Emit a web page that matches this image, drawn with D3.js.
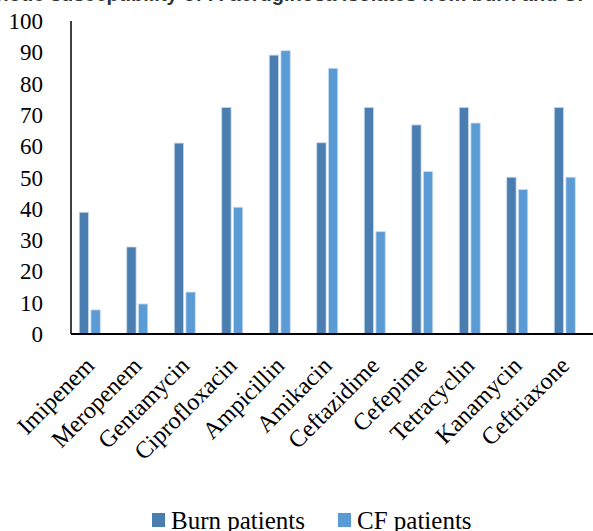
<!DOCTYPE html>
<html>
<head>
<meta charset="utf-8">
<script src="https://cdn.jsdelivr.net/npm/d3@7"></script>
<style>
  body { margin: 0; background: #fff; }
  svg { display: block; }
</style>
</head>
<body>
<script>
var width = 593;
var height = 531;

// data
var drugs = ["Imipenem", "Meropenem", "Gentamycin", "Ciprofloxacin", "Ampicillin", "Amikacin",
  "Ceftazidime", "Cefepime", "Tetracyclin", "Kanamycin", "Ceftriaxone"];
var burn = [38.9, 27.8, 61.0, 72.4, 89.1, 61.1, 72.4, 66.8, 72.4, 50.1, 72.4];
var cf = [7.7, 9.6, 13.4, 40.5, 90.5, 84.9, 32.7, 51.9, 67.4, 46.2, 50.1];
var series = ["Burn patients", "CF patients"];
var yTicks = [0, 10, 20, 30, 40, 50, 60, 70, 80, 90, 100];
var colors = ["#4a7eb0", "#5b9bd5"];

var svg = d3.select("body")
  .append("svg")
  .attr("width", width)
  .attr("height", height);

// title, cut off by the top edge as in the source image
svg.append("text")
  .attr("x", 312)
  .attr("y", 1)
  .attr("text-anchor", "middle")
  .style("font-family", "'Liberation Sans', Arial, sans-serif")
  .style("font-weight", "bold")
  .style("font-size", "20px")
  .attr("fill", "#333")
  .text("Antibiotic susceptibility of P. aeruginosa isolates from burn and CF patients");

var x = d3.scaleBand()
  .domain(drugs)
  .range([66, 588.5]);

var x1 = d3.scaleBand()
  .domain(series)
  .range([-10.5, 10.5])
  .paddingInner(0.2);

var y = d3.scaleLinear()
  .domain([0, 100])
  .range([334, 21]);

// y axis
svg.append("line")
  .attr("x1", 71).attr("x2", 71)
  .attr("y1", y(100)).attr("y2", y(0))
  .attr("stroke", "#000")
  .attr("stroke-width", 1.5);

svg.selectAll(".ytick")
  .data(yTicks)
  .enter()
  .append("text")
  .attr("class", "ytick")
  .attr("x", 43)
  .attr("y", function (d) { return y(d) + 8; })
  .attr("text-anchor", "end")
  .style("font-family", "'Liberation Serif', serif")
  .style("font-size", "23px")
  .attr("fill", "#000")
  .text(function (d) { return d; });

// bars
var groups = svg.selectAll(".grp")
  .data(drugs)
  .enter()
  .append("g")
  .attr("class", "grp")
  .attr("transform", function (d) { return "translate(" + (x(d) + x.bandwidth() / 2) + ",0)"; });

groups.selectAll("rect")
  .data(function (d, i) { return [{ s: series[0], v: burn[i] }, { s: series[1], v: cf[i] }]; })
  .enter()
  .append("rect")
  .attr("x", function (d) { return x1(d.s); })
  .attr("width", x1.bandwidth())
  .attr("y", function (d) { return y(d.v); })
  .attr("height", function (d) { return y(0) - y(d.v); })
  .attr("fill", function (d, i) { return colors[i]; })
  .attr("stroke", "#c9dcee")
  .attr("stroke-width", 0.8);

// x axis
svg.append("line")
  .attr("x1", 71).attr("x2", 593)
  .attr("y1", y(0)).attr("y2", y(0))
  .attr("stroke", "#000")
  .attr("stroke-width", 2);

svg.selectAll(".xlab")
  .data(drugs)
  .enter()
  .append("text")
  .attr("class", "xlab")
  .attr("text-anchor", "end")
  .attr("transform", function (d) {
    return "translate(" + (x(d) + x.bandwidth() / 2 + 6) + ",367) rotate(-45)";
  })
  .style("font-family", "'Liberation Serif', serif")
  .style("font-size", "24px")
  .attr("fill", "#000")
  .text(function (d) { return d; });

// legend
var legendX = [152, 338];
var legend = svg.selectAll(".leg")
  .data(series)
  .enter()
  .append("g")
  .attr("class", "leg")
  .attr("transform", function (d, i) { return "translate(" + legendX[i] + ",513)"; });

legend.append("rect")
  .attr("width", 13)
  .attr("height", 14)
  .attr("fill", function (d, i) { return colors[i]; });

legend.append("text")
  .attr("x", 19)
  .attr("y", 16)
  .style("font-family", "'Liberation Serif', serif")
  .style("font-size", "25px")
  .attr("fill", "#000")
  .text(function (d) { return d; });
</script>
</body>
</html>
